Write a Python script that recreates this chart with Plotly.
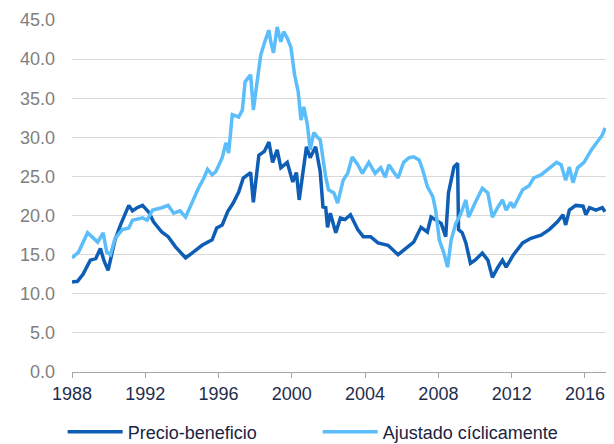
import plotly.graph_objects as go

# Precio-beneficio (dark blue)
pe_years = [1988.0, 1988.3, 1988.6, 1989.0, 1989.3, 1989.55, 1989.75, 1989.97, 1990.35,
            1990.65, 1991.1, 1991.3, 1991.55, 1991.85, 1992.2, 1992.45, 1992.9, 1993.25,
            1993.65, 1994.2, 1994.55, 1995.1, 1995.65, 1995.9, 1996.2, 1996.5, 1996.8,
            1997.1, 1997.35, 1997.75, 1997.9, 1998.2, 1998.5, 1998.75, 1998.95, 1999.2,
            1999.4, 1999.75, 2000.05, 2000.25, 2000.4, 2000.6, 2000.8, 2001.0, 2001.3,
            2001.55, 2001.7, 2001.85, 2001.95, 2002.1, 2002.4, 2002.65, 2002.9, 2003.2,
            2003.6, 2003.9, 2004.3, 2004.7, 2005.25, 2005.8, 2006.3, 2006.65, 2007.05,
            2007.4, 2007.6, 2007.85, 2008.15, 2008.4, 2008.55, 2008.85, 2009.05, 2009.1,
            2009.3, 2009.5, 2009.75, 2010.0, 2010.4, 2010.7, 2010.95, 2011.25, 2011.5,
            2011.7, 2012.1, 2012.6, 2013.05, 2013.6, 2014.05, 2014.5, 2014.8, 2014.95,
            2015.15, 2015.5, 2015.9, 2016.05, 2016.25, 2016.6, 2016.95, 2017.1]
pe_vals = [11.5, 11.6, 12.5, 14.3, 14.5, 15.8, 14.2, 13.0, 16.9,
           18.8, 21.3, 20.6, 21.0, 21.3, 20.4, 19.2, 17.9, 17.3,
           16.0, 14.6, 15.2, 16.2, 16.9, 18.4, 18.8, 20.5, 21.6,
           23.0, 24.8, 25.5, 21.7, 27.7, 28.2, 29.4, 26.8, 28.4,
           26.1, 26.8, 24.3, 25.5, 22.0, 25.6, 28.8, 27.4, 28.8,
           25.6, 21.1, 21.0, 18.5, 20.3, 17.8, 19.7, 19.5, 20.1,
           18.2, 17.3, 17.3, 16.5, 16.2, 15.0, 16.0, 16.6, 18.5,
           17.9, 19.8, 19.4, 19.0, 17.3, 22.9, 26.2, 26.7, 18.2,
           17.8, 16.5, 13.9, 14.3, 15.2, 14.3, 12.1, 13.4, 14.3,
           13.4, 15.0, 16.5, 17.1, 17.5, 18.2, 19.2, 20.1, 18.8,
           20.7, 21.3, 21.2, 20.1, 21.0, 20.7, 21.0, 20.5]

# Ajustado cíclicamente (light blue)
cape_years = [1988.0, 1988.35, 1988.85, 1989.1, 1989.4, 1989.7, 1989.9, 1990.1, 1990.35,
              1990.75, 1991.1, 1991.3, 1991.85, 1992.1, 1992.4, 1992.9, 1993.25, 1993.55,
              1993.9, 1994.2, 1994.55, 1994.9, 1995.2, 1995.4, 1995.65, 1995.85, 1996.2,
              1996.4, 1996.55, 1996.75, 1997.1, 1997.3, 1997.45, 1997.75, 1997.9, 1998.1,
              1998.3, 1998.55, 1998.75, 1998.85, 1999.0, 1999.2, 1999.4, 1999.55, 1999.75,
              1999.95, 2000.15, 2000.35, 2000.5, 2000.65, 2000.85, 2001.0, 2001.2, 2001.4,
              2001.55, 2001.85, 2002.0, 2002.3, 2002.5, 2002.8, 2003.05, 2003.3, 2003.6,
              2003.85, 2004.2, 2004.55, 2004.85, 2005.1, 2005.3, 2005.55, 2005.8, 2006.1,
              2006.4, 2006.65, 2006.95, 2007.15, 2007.4, 2007.7, 2007.85, 2008.05, 2008.3,
              2008.5, 2008.7, 2008.95, 2009.2, 2009.5, 2009.65, 2010.0, 2010.4, 2010.7,
              2010.95, 2011.25, 2011.5, 2011.7, 2011.95, 2012.1, 2012.6, 2012.95, 2013.2,
              2013.6, 2013.9, 2014.15, 2014.45, 2014.7, 2014.95, 2015.15, 2015.35, 2015.6,
              2015.95, 2016.35, 2016.75, 2016.95, 2017.1]
cape_vals = [14.6, 15.3, 17.8, 17.3, 16.6, 17.8, 15.3, 15.0, 17.1,
             18.2, 18.4, 19.4, 19.7, 19.4, 20.7, 21.0, 21.3, 20.3,
             20.6, 19.8, 21.7, 23.5, 24.8, 25.9, 25.2, 25.6, 27.4,
             29.3, 28.0, 32.9, 32.6, 33.5, 37.1, 38.0, 33.5, 37.1,
             40.5, 42.4, 43.7, 42.2, 40.8, 44.1, 42.2, 43.5, 42.7,
             41.5, 38.0, 35.8, 32.2, 33.9, 31.6, 28.4, 30.6, 30.0,
             29.7, 24.9, 23.3, 22.9, 21.6, 24.5, 25.4, 27.5, 26.5,
             25.4, 26.8, 25.4, 26.1, 24.9, 26.5, 25.6, 24.8, 26.8,
             27.4, 27.5, 27.1, 25.8, 23.7, 22.4, 20.7, 16.9, 15.2,
             13.4, 16.9, 19.0, 20.1, 22.0, 19.8, 21.6, 23.5, 22.9,
             19.8, 21.1, 22.0, 20.7, 21.7, 21.0, 23.3, 23.8, 24.8,
             25.2, 25.8, 26.2, 26.8, 26.5, 24.5, 26.2, 24.2, 26.1,
             26.8, 28.4, 29.7, 30.3, 31.2]

y_ticks = [0, 5, 10, 15, 20, 25, 30, 35, 40, 45]
x_ticks = [1988, 1992, 1996, 2000, 2004, 2008, 2012, 2016]

DARK = '#0F5EB5'
LIGHT = '#5BBEFA'

fig = go.Figure()
fig.add_trace(go.Scatter(x=pe_years, y=pe_vals, mode='lines', name='Precio-beneficio',
                         line=dict(color=DARK, width=3.5)))
fig.add_trace(go.Scatter(x=cape_years, y=cape_vals, mode='lines', name='Ajustado cíclicamente',
                         line=dict(color=LIGHT, width=3.5)))

# page body adds an 8px offset, so margins are shifted accordingly
fig.update_layout(
    width=614, height=444,
    margin=dict(l=64, r=16, t=12, b=80, autoexpand=False),
    paper_bgcolor='white', plot_bgcolor='white',
    font=dict(family='Liberation Sans, Arial, sans-serif', size=18, color='#1F2D4D'),
    showlegend=True,
    legend=dict(orientation='h', xref='container', x=0.089, xanchor='left',
                yref='container', y=0.045, yanchor='middle',
                itemwidth=55, entrywidth=185, font=dict(size=18, color='#1A2440'),
                bgcolor='rgba(0,0,0,0)'),
)
fig.update_xaxes(range=[1988, 2017.15], tickvals=x_ticks, ticktext=[str(v) for v in x_ticks],
                 showgrid=False, showline=True, linecolor='#A6A6A6', linewidth=1,
                 ticks='outside', ticklen=5, tickcolor='#A6A6A6',
                 tickfont=dict(size=18, color='#1F2D4D'), zeroline=False)
fig.update_yaxes(range=[0, 45], tickvals=y_ticks, tickformat='.1f',
                 showgrid=True, gridcolor='#D9D9D9', gridwidth=1,
                 showline=False, zeroline=False, ticks='', ticklabelstandoff=16,
                 tickfont=dict(size=18, color='#7F7F7F'))

fig.write_html('out.html')
